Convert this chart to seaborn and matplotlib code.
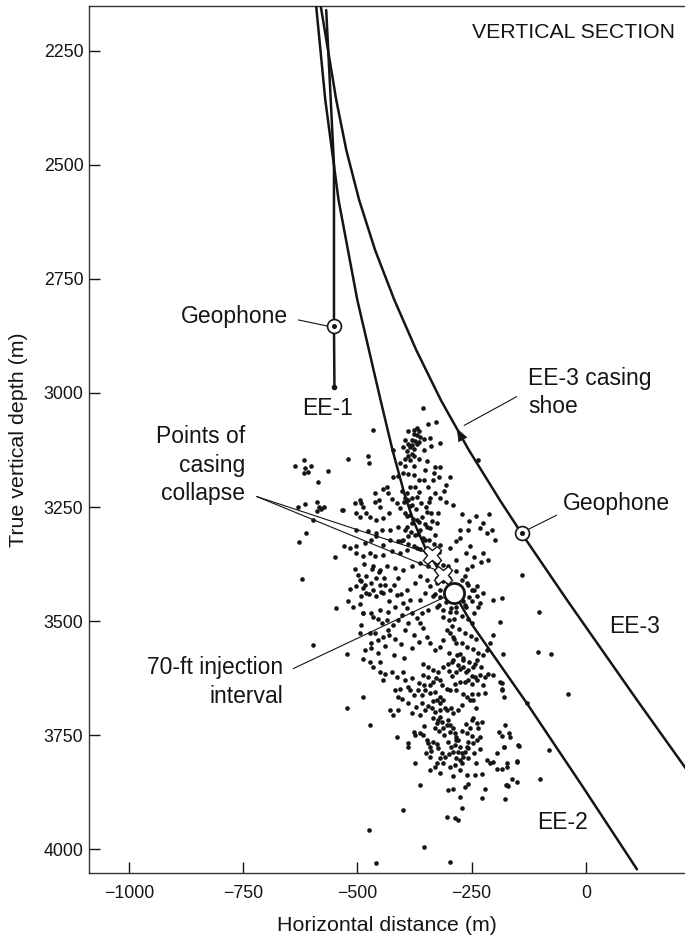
import numpy as np
import pandas as pd
import seaborn as sns
import matplotlib.pyplot as plt

# ---------------- data ----------------
ee1_x = [-568, -551, -551, -550]
ee1_y = [2161, 2500, 2853, 2988]

ee2_x = [-592, -590, -570, -541, -500, -449, -423, -395, -376, -352, -321, -288, -246, -129, -8, 112]
ee2_y = [2140, 2152, 2358, 2577, 2796, 3016, 3125, 3228, 3283, 3338, 3389, 3439, 3512, 3680, 3861, 4044]

ee3_x = [-582, -580, -546, -524, -496, -461, -419, -371, -317, -256, -188, -141, -41, 112, 221]
ee3_y = [2140, 2152, 2358, 2468, 2577, 2687, 2796, 2906, 3016, 3125, 3235, 3307, 3454, 3673, 3826]

geophone_x = [-551, -140]
geophone_y = [2853, 3307]
collapse_x = [-337, -312]
collapse_y = [3355, 3399]
injection_x = [-288]
injection_y = [3439]
shoe_x = [-282]
shoe_y = [3078]

# microseismic events, first reading
event_x = [
 -357,-327,-346,-370,-377,-388,-364,-377,-370,-362,-395,-381,-373,-366,-355,-341,-320,-388,-381,-370,
 -399,-384,-377,-339,-355,-421,-392,-381,-388,-377,-395,-384,-366,-406,-395,-377,-330,-320,-352,-333,
 -399,-388,-421,-410,-377,-364,-306,-384,-373,-435,-443,-432,-403,-392,-366,-330,-395,-381,-341,-370,-235,
 -476,-474,-461,-452,-494,-491,-505,-531,-487,-480,-461,-450,-425,-414,-388,-381,-407,-396,-385,-430,
 -443,-459,-472,-494,-502,-290,-323,-348,-359,-370,-381,-392,-410,-429,-447,-458,-476,-502,-326,-348,
 -363,-374,-388,-399,-410,-429,-443,-458,-469,-483,-502,-516,-257,-231,-217,-199,-253,-275,-283,-297,
 -319,-330,-352,-370,-392,-407,-425,-443,-461,-472,-487,-502,-224,-250,-264,-283,-301,-312,-326,-345,
 -363,-381,-399,-418,-436,-450,-465,-480,-494,-502,-483,-469,-458,-450,-465,-480,-491,-443,-429,-414,
 -392,-374,-363,-348,-341,-326,-319,-334,-352,-363,-385,-399,-418,-432,-450,-469,-487,-261,-250,-239,
 -224,-231,-250,-264,-283,-297,-312,-326,-345,-359,-202,-184,-140,-102,
 -188,-182,-104,-77,-39,-184,-184,-129,-177,-169,-166,-184,-180,-147,-80,-151,-184,-173,-162,-151,
 -100,-174,-171,-177,
 -487,-465,-436,-491,-494,-472,-461,-469,-483,-523,-487,-472,-450,-465,-450,-440,-443,-425,-414,-399,
 -418,-407,-410,-388,-377,-385,-367,-359,-352,-341,-330,-319,-326,-312,-304,-297,-283,-286,-275,-264,
 -257,-250,-242,-239,-231,-221,-213,-202,-188,-184,-221,-180,-261,-253,-246,-272,-290,-304,-319,-330,
 -337,-352,-363,-381,-410,-421,-429,-487,-523,-472,-414,-388,-388,-374,-377,-363,-356,-348,-345,-341,
 -334,-330,-326,-323,-319,-315,-312,-304,-301,-297,-290,-286,-283,-279,-275,-279,-272,-264,-261,-257,
 -261,-253,-250,-246,-239,-235,-231,-239,-246,-257,-268,-275,-286,-297,-308,-319,-326,-330,-341,-315,
 -323,-301,-294,-290,-286,-374,-363,-341,-399,-301,-290,-275,-272,-304,-286,-279,-261,-257,-264,-242,
 -228,-221,-228,-217,-210,-202,-195,-173,-195,-180,-191,-173,-151,-148,-202,-210,-217,-224,-239,-246,
 -257,-268,-275,-283,-290,-297,-304,-312,-319,-330,-341,-348,-356,-363,-370,-381,-392,-403,-410,-421,
 -432,-443,-454,-356,-345,-334,-323,-312,-301,-290,-279,-268,-319,-334,-345,-356,-458,-474,-353,-297,
 -636,-616,-614,-601,-617,-608,-563,-586,-520,-630,-615,-588,-583,-579,-572,-588,-533,-597,-613,-628,
 -528,-549,-621,-546,-597,-465,
]
event_y = [
 3034,3063,3069,3076,3082,3083,3084,3089,3093,3096,3102,3102,3106,3107,3100,3098,3109,3111,3113,3111,
 3118,3118,3122,3117,3125,3124,3128,3134,3138,3138,3144,3147,3144,3153,3160,3160,3163,3163,3168,3175,
 3175,3178,3184,3182,3180,3191,3202,3206,3207,3207,3211,3219,3214,3220,3217,3220,3231,3231,3231,3229,3147,
 3138,3154,3219,3234,3234,3241,3241,3256,3249,3263,3238,3249,3233,3241,3234,3245,3252,3263,3267,3263,
 3274,3278,3271,3271,3263,3245,3263,3260,3271,3278,3285,3293,3293,3300,3300,3307,3303,3300,3285,3293,
 3300,3311,3314,3322,3325,3322,3333,3314,3322,3329,3336,3340,3300,3296,3307,3322,3336,3318,3325,3340,
 3333,3311,3322,3340,3344,3351,3347,3355,3358,3351,3358,3351,3351,3380,3402,3391,3380,3376,3373,3380,
 3373,3380,3387,3384,3380,3387,3380,3402,3409,3424,3420,3417,3406,3420,3431,3438,3446,3438,3431,3442,
 3431,3417,3402,3409,3424,3417,3431,3446,3438,3453,3453,3460,3468,3479,3475,3482,3482,3417,3431,3424,
 3438,3460,3457,3464,3468,3479,3475,3468,3475,3482,3453,3449,3398,3479,
 3503,3571,3567,3571,3660,3636,3651,3680,3728,3746,3755,3752,3775,3773,3783,3806,3823,3819,3847,3852,
 3846,3860,3861,3889,
 3483,3491,3498,3509,3527,3527,3527,3549,3564,3571,3582,3589,3589,3600,3611,3615,3629,3611,3622,3611,
 3651,3648,3666,3644,3662,3651,3651,3662,3651,3658,3655,3666,3673,3673,3648,3651,3651,3637,3633,3633,
 3629,3637,3622,3629,3618,3622,3615,3618,3633,3648,3658,3666,3666,3673,3673,3684,3702,3695,3695,3699,
 3691,3695,3706,3702,3695,3706,3695,3666,3691,3728,3753,3768,3775,3750,3742,3746,3750,3761,3768,3775,
 3764,3735,3724,3717,3710,3720,3735,3728,3717,3728,3735,3746,3753,3761,3775,3786,3790,3786,3775,3764,
 3746,3735,3717,3713,3724,3735,3753,3761,3768,3779,3797,3804,3815,3819,3797,3801,3812,3819,3826,3790,
 3779,3764,3775,3786,3772,3812,3859,3797,3914,3870,3867,3885,3910,3929,3932,3936,3837,3856,3863,3837,
 3834,3867,3888,3804,3812,3808,3823,3812,3790,3775,3742,3859,3808,3772,3531,3549,3564,3575,3585,3600,
 3607,3585,3571,3549,3534,3527,3520,3542,3556,3564,3549,3534,3516,3505,3494,3483,3472,3487,3498,3509,
 3520,3534,3542,3593,3600,3607,3611,3600,3593,3585,3596,3600,3629,3633,3622,3618,4031,3958,3996,4027,
 3161,3146,3165,3159,3176,3174,3172,3196,3145,3250,3243,3239,3249,3254,3249,3258,3257,3278,3307,3326,
 3336,3360,3408,3471,3553,3082,
]

# microseismic events, second reading (denser parts of the cloud)
event2_x = [
 -398,-385,-372,-360,-349,-338,-392,-378,-365,-352,-340,-395,-382,-368,-356,-344,-333,-404,-390,-377,
 -363,-350,-322,-336,-344,
 -325,-312,-300,-270,-258,-245,-238,-255,-268,-305,-318,-330,-296,-284,-270,-258,-245,-236,-312,-300,
 -288,-322,-275,-262,-250,
 -292,-278,-265,-252,-240,-288,-272,-260,-246,-235,-282,-268,-255,-243,-230,-262,-248,-276,-292,-300,
 -335,-322,-310,-298,-285,-270,-262,-250,-244,-258,-270,-285,-300,-312,-326,-338,-350,-355,-318,-290,
 -276,-240,-232,-228,
 -505,-498,-492,-488,-475,-460,-448,-440,-442,-452,-468,-485,-515,-520,-510,-495,-430,-420,-410,-405,
 -455,-445,-430,-418,-405,-395,-388,-376,-366,-380,-440,-455,-470,-420,-398,
 -395,-380,-366,-355,-340,-328,-315,-300,-292,-285,-402,-390,-372,-358,-345,-335,-320,-308,-296,-280,
 -268,-250,-235,-225,-240,
 -348,-335,-322,-318,-305,-310,-298,-345,-355,
 -270,-255,-240,-225,-212,-205,-262,-245,-230,-215,-260,-285,-275,
]
event2_y = [
 3240,3248,3255,3242,3250,3262,3270,3276,3282,3288,3296,3300,3305,3310,3318,3322,3330,3325,3332,3336,
 3342,3348,3348,3280,3240,
 3405,3412,3405,3410,3420,3432,3445,3448,3455,3458,3448,3440,3472,3480,3488,3496,3483,3470,3490,3498,
 3495,3465,3430,3470,3505,
 3510,3518,3525,3532,3540,3540,3548,3556,3562,3570,3575,3580,3590,3595,3600,3612,3620,3605,3590,3570,
 3712,3740,3750,3742,3760,3740,3725,3752,3790,3800,3812,3800,3792,3810,3770,3785,3790,3730,3832,3840,
 3826,3812,3780,3720,
 3385,3398,3412,3428,3440,3445,3436,3420,3405,3392,3385,3375,3430,3455,3470,3462,3455,3420,3405,3440,
 3495,3505,3530,3540,3550,3520,3505,3530,3545,3560,3555,3570,3560,3575,3580,
 3630,3625,3635,3640,3640,3625,3640,3610,3620,3612,3670,3680,3688,3680,3685,3675,3680,3690,3690,3695,
 3660,3660,3660,3640,3690,
 3150,3190,3185,3230,3240,3215,3185,3205,3190,
 3265,3280,3270,3285,3265,3300,3350,3360,3370,3365,3385,3365,3300,
]

# ---------------- style ----------------
sns.set_theme(style="ticks")
plt.rcParams['font.family'] = ['Liberation Sans', 'DejaVu Sans']
INK = '#151515'

fig = plt.figure(figsize=(6.85, 9.38), dpi=100)
ax = fig.add_axes([89/685, 65/938, 596/685, 867/938])

events = pd.DataFrame({'x': event_x + event2_x, 'y': event_y + event2_y})
sns.scatterplot(data=events, x='x', y='y', s=11, color=INK, linewidth=0,
                legend=False, ax=ax, zorder=2)

for wx, wy in [(ee1_x, ee1_y), (ee2_x, ee2_y), (ee3_x, ee3_y)]:
    sns.lineplot(x=wx, y=wy, sort=False, estimator=None, color=INK,
                 linewidth=1.8, ax=ax, zorder=3, solid_joinstyle='round')

# end of EE-1
ax.plot(ee1_x[-1:], ee1_y[-1:], 'o', ms=3, color=INK, zorder=4)

# geophones
ax.plot(geophone_x, geophone_y, 'o', ms=10, mfc='white', mec=INK, mew=1.2, ls='none', zorder=5)
ax.plot(geophone_x, geophone_y, 'o', ms=2.6, color=INK, ls='none', zorder=6)
# collapse points
ax.plot(collapse_x, collapse_y, 'X', ms=13, mfc='white', mec=INK, mew=1.0, ls='none', zorder=5)
# injection interval
ax.plot(injection_x, injection_y, 'o', ms=14.5, mfc='white', mec=INK, mew=2.0, ls='none', zorder=5)
# casing shoe arrowhead
ax.annotate('', xy=(shoe_x[0], shoe_y[0]), xytext=(shoe_x[0] + 9, shoe_y[0] + 17),
            arrowprops=dict(arrowstyle='-|>,head_length=0.75,head_width=0.3', color=INK,
                            lw=0.5, shrinkA=0, shrinkB=0, mutation_scale=11), zorder=6)

lead = dict(arrowstyle='-', color=INK, lw=0.8, shrinkA=0, shrinkB=0)
FS = 16.5

ax.text(195, 2211, 'VERTICAL SECTION', ha='right', va='center', fontsize=15.3, color=INK)

ax.text(-651, 2833, 'Geophone', ha='right', va='center', fontsize=FS, color=INK)
ax.annotate('', xy=(-567, 2853), xytext=(-629, 2840), arrowprops=lead)

ax.text(-565, 3034, 'EE-1', ha='center', va='center', fontsize=FS, color=INK)

ax.text(-746, 3158, 'Points of\ncasing\ncollapse', ha='right', va='center',
        fontsize=FS, color=INK, linespacing=1.3, multialignment='right')
ax.annotate('', xy=(-345, 3351), xytext=(-720, 3227), arrowprops=lead)
ax.annotate('', xy=(-318, 3392), xytext=(-720, 3227), arrowprops=lead)

ax.text(-662, 3633, '70-ft injection\ninterval', ha='right', va='center',
        fontsize=FS, color=INK, linespacing=1.33, multialignment='right')
ax.annotate('', xy=(-308, 3447), xytext=(-640, 3604), arrowprops=lead)

ax.text(-126, 2999, 'EE-3 casing\nshoe', ha='left', va='center',
        fontsize=FS, color=INK, linespacing=1.25)
ax.annotate('', xy=(-266, 3071), xytext=(-151, 3008), arrowprops=lead)

ax.text(-50, 3242, 'Geophone', ha='left', va='center', fontsize=FS, color=INK)
ax.annotate('', xy=(-126, 3299), xytext=(-64, 3268), arrowprops=lead)

ax.text(107, 3512, 'EE-3', ha='center', va='center', fontsize=FS, color=INK)
ax.text(-52, 3942, 'EE-2', ha='center', va='center', fontsize=FS, color=INK)

# ---------------- axes ----------------
ax.set_xlim(-1087, 217)
ax.set_ylim(4052, 2152)
ax.set_xticks([-1000, -750, -500, -250, 0])
ax.set_yticks([2250, 2500, 2750, 3000, 3250, 3500, 3750, 4000])
ax.tick_params(direction='in', length=8, width=1.0, colors=INK, labelsize=12.8)
ax.tick_params(axis='x', pad=8.5)
ax.tick_params(axis='y', pad=4)
for s in ['left', 'bottom', 'top']:
    ax.spines[s].set_linewidth(1.0)
    ax.spines[s].set_color('#333333')
ax.spines['right'].set_visible(False)

ax.set_xlabel('Horizontal distance (m)', fontsize=15.4, color=INK)
ax.set_ylabel('True vertical depth (m)', fontsize=15.4, color=INK)
ax.xaxis.label.set_va('center')
ax.yaxis.label.set_va('center')
ax.xaxis.set_label_coords(0.5, -0.061)
ax.yaxis.set_label_coords(-0.119, 0.5)

fig.savefig('out.png', dpi=100)
